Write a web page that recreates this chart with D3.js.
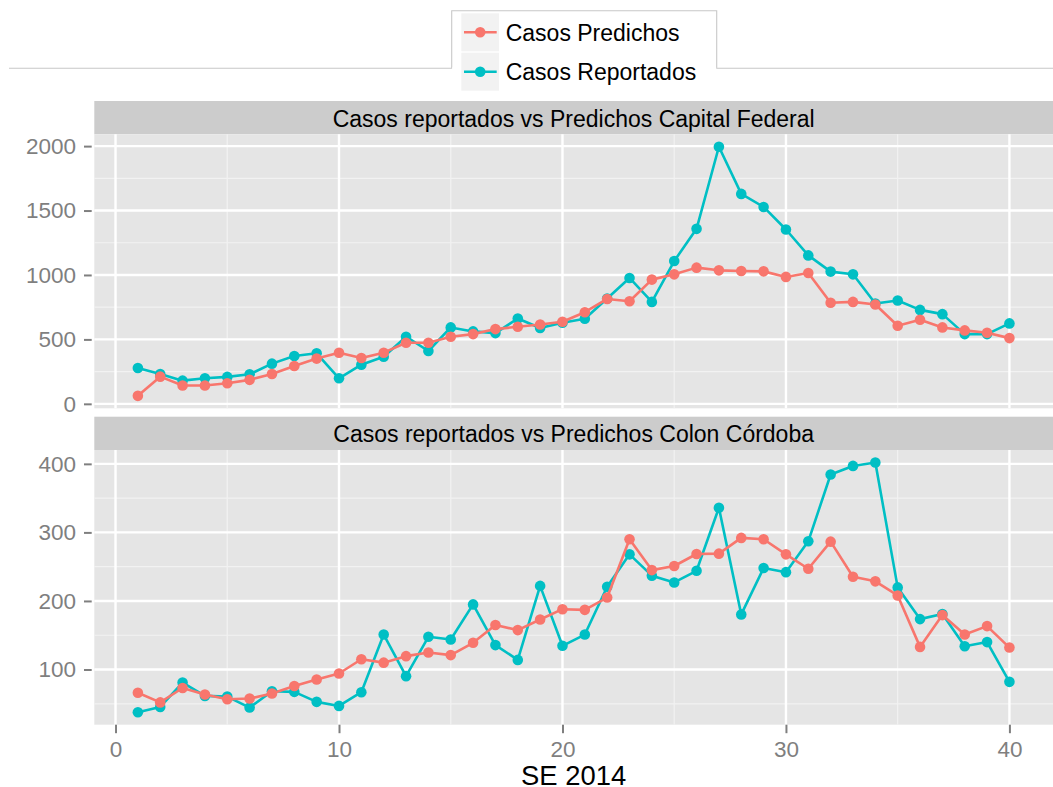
<!DOCTYPE html>
<html>
<head>
<meta charset="utf-8">
<script src="https://cdn.jsdelivr.net/npm/d3@7"></script>
<style>
  html, body { margin: 0; padding: 0; background: #ffffff; }
  svg { display: block; font-family: "Liberation Sans", Arial, Helvetica, sans-serif; }
</style>
</head>
<body>
<svg id="chart" width="1053" height="787"></svg>
<script>
// ---------------- DATA ----------------
const weeks = d3.range(1, 41);
const seriesNames = ["Casos Predichos", "Casos Reportados"];
const panelTitles = ["Casos reportados vs Predichos Capital Federal", "Casos reportados vs Predichos Colon Córdoba"];

const capitalPredichos = [62, 211, 142, 142, 160, 186, 232, 294, 351, 397,
  356, 397, 474, 474, 521, 541, 580, 598, 616, 637,
  711, 814, 796, 964, 1005, 1057, 1036, 1031, 1028, 985,
  1015, 784, 791, 771, 606, 652, 593, 570, 552, 510];
const capitalReportados = [278, 232, 180, 198, 209, 229, 312, 371, 392, 198,
  304, 366, 521, 410, 593, 562, 549, 662, 588, 629,
  660, 817, 977, 791, 1108, 1358, 1995, 1629, 1528, 1353,
  1152, 1026, 1005, 778, 802, 729, 696, 541, 541, 624];

const colonPredichos = [66, 52, 73, 63.5, 56.6, 57.6, 65, 76, 85.4, 94.2,
  115, 110, 119.5, 124.8, 121, 139, 165, 157.5, 173, 188,
  187, 205, 290, 245, 251, 268.5, 269, 292, 290, 268,
  247, 286.5, 235.4, 228.6, 208, 133, 179.4, 151, 163.3, 132];
const colonReportados = [37.7, 45.4, 81, 61.5, 60.5, 44.5, 68.3, 67.4, 52.8, 46.9,
  66.9, 151, 90.3, 147.7, 143.8, 195, 135.6, 114, 222, 134.6,
  151, 220.8, 268, 236.9, 227, 244, 336, 180.4, 248, 242,
  287, 384.5, 397, 402, 219.8, 173.5, 180.9, 134, 140, 82];

const xTicks = [0, 10, 20, 30, 40];
const xMinor = [5, 15, 25, 35];
const capitalTicks = [0, 500, 1000, 1500, 2000];
const capitalMinor = [250, 750, 1250, 1750];
const colonTicks = [100, 200, 300, 400];
const colonMinor = [50, 150, 250, 350];
const xTitle = "SE 2014";

const colors = { "Casos Predichos": "#F8766D", "Casos Reportados": "#00BFC4" };

// ---------------- LAYOUT ----------------
const svg = d3.select("#chart");
const W = 1053;
const panelLeft = 94.3, panelRight = 1053;
const panels = [
  { title: panelTitles[0], pred: capitalPredichos, rep: capitalReportados, ticks: capitalTicks, minor: capitalMinor,
    stripTop: 101, stripBottom: 134.3, top: 134.3, bottom: 408.3 },
  { title: panelTitles[1], pred: colonPredichos, rep: colonReportados, ticks: colonTicks, minor: colonMinor,
    stripTop: 416.7, stripBottom: 450, top: 450, bottom: 724.7 }
];

const xExt = d3.extent(weeks);
const xPad = (xExt[1] - xExt[0]) * 0.05;
const x = d3.scaleLinear().domain([xExt[0] - xPad, xExt[1] + xPad]).range([panelLeft, panelRight]);

const tickFont = 22.5;
const tickColor = "#7f7f7f";

panels.forEach((p, i) => {
  const all = p.pred.concat(p.rep);
  const ext = d3.extent(all);
  const pad = (ext[1] - ext[0]) * 0.05;
  const y = d3.scaleLinear().domain([ext[0] - pad, ext[1] + pad]).range([p.bottom, p.top]);

  // strip
  svg.append("rect").attr("x", panelLeft).attr("y", p.stripTop)
    .attr("width", panelRight - panelLeft).attr("height", p.stripBottom - p.stripTop)
    .attr("fill", "#cccccc");
  svg.append("text").attr("x", (panelLeft + panelRight) / 2).attr("y", p.stripTop + 25.7)
    .attr("text-anchor", "middle").attr("font-size", 23).attr("fill", "#000")
    .text(p.title);

  // panel background
  svg.append("rect").attr("x", panelLeft).attr("y", p.top)
    .attr("width", panelRight - panelLeft).attr("height", p.bottom - p.top)
    .attr("fill", "#e5e5e5");

  const g = svg.append("g");
  // minor grid
  g.selectAll(".hmin").data(p.minor).enter().append("line")
    .attr("x1", panelLeft).attr("x2", panelRight)
    .attr("y1", d => y(d)).attr("y2", d => y(d))
    .attr("stroke", "#f2f2f2").attr("stroke-width", 1.2);
  g.selectAll(".vmin").data(xMinor).enter().append("line")
    .attr("y1", p.top).attr("y2", p.bottom)
    .attr("x1", d => x(d)).attr("x2", d => x(d))
    .attr("stroke", "#f2f2f2").attr("stroke-width", 1.2);
  // major grid
  g.selectAll(".hmaj").data(p.ticks).enter().append("line")
    .attr("x1", panelLeft).attr("x2", panelRight)
    .attr("y1", d => y(d)).attr("y2", d => y(d))
    .attr("stroke", "#ffffff").attr("stroke-width", 2.4);
  g.selectAll(".vmaj").data(xTicks).enter().append("line")
    .attr("y1", p.top).attr("y2", p.bottom)
    .attr("x1", d => x(d)).attr("x2", d => x(d))
    .attr("stroke", "#ffffff").attr("stroke-width", 2.4);

  // y axis
  const yAxis = d3.axisLeft(y).tickValues(p.ticks).tickSize(7.7).tickPadding(8).tickFormat(d3.format("d"));
  const ga = svg.append("g").attr("transform", `translate(91.7,0)`).call(yAxis);
  ga.select(".domain").remove();
  ga.selectAll(".tick line").attr("stroke", tickColor).attr("stroke-width", 2);
  ga.selectAll(".tick text").attr("fill", tickColor).attr("font-size", tickFont)
    .attr("font-family", "Liberation Sans, Arial, sans-serif");

  // series: reportados first, predichos on top
  const seriesList = [
    { name: seriesNames[1], vals: p.rep },
    { name: seriesNames[0], vals: p.pred }
  ];
  const clipId = "clip" + i;
  svg.append("clipPath").attr("id", clipId).append("rect")
    .attr("x", panelLeft).attr("y", p.top).attr("width", panelRight - panelLeft).attr("height", p.bottom - p.top);
  const gs = svg.append("g").attr("clip-path", `url(#${clipId})`);
  seriesList.forEach(s => {
    const pts = weeks.map((w, k) => [w, s.vals[k]]);
    const line = d3.line().x(d => x(d[0])).y(d => y(d[1]));
    gs.append("path").datum(pts).attr("d", line)
      .attr("fill", "none").attr("stroke", colors[s.name]).attr("stroke-width", 2.6)
      .attr("stroke-linejoin", "round");
    gs.selectAll(null).data(pts).enter().append("circle")
      .attr("cx", d => x(d[0])).attr("cy", d => y(d[1])).attr("r", 5.3)
      .attr("fill", colors[s.name]);
  });
});

// x axis (bottom)
const xAxis = d3.axisBottom(x).tickValues(xTicks).tickSize(8.5).tickPadding(7.5).tickFormat(d3.format("d"));
const gx = svg.append("g").attr("transform", `translate(0,${panels[1].bottom})`).call(xAxis);
gx.select(".domain").remove();
gx.selectAll(".tick line").attr("stroke", tickColor).attr("stroke-width", 2);
gx.selectAll(".tick text").attr("fill", tickColor).attr("font-size", tickFont)
  .attr("font-family", "Liberation Sans, Arial, sans-serif");

// x title
svg.append("text").attr("x", (panelLeft + panelRight) / 2).attr("y", 785)
  .attr("text-anchor", "middle").attr("font-size", 27.4).attr("fill", "#000").text(xTitle);

// ---------------- LEGEND ----------------
const lgLeft = 451.7, lgRight = 716.7, lgTop = 10.7, lineY = 68.3;
svg.append("path")
  .attr("d", `M9,${lineY}H${lgLeft}V${lgTop}H${lgRight}V${lineY}H${W}`)
  .attr("fill", "none").attr("stroke", "#c8c8c8").attr("stroke-width", 1.1);
svg.append("rect").attr("x", lgLeft + 0.6).attr("y", lineY - 1).attr("width", lgRight - lgLeft - 1.2).attr("height", 26)
  .attr("fill", "#fff");

const keyRows = [
  { name: seriesNames[0], top: 13.3 },
  { name: seriesNames[1], top: 52.7 }
];
const lg = svg.append("g");
keyRows.forEach(r => {
  lg.append("rect").attr("x", 461.3).attr("y", r.top).attr("width", 37.7).attr("height", 38)
    .attr("fill", "#f2f2f2");
  const cy = r.top + 19;
  lg.append("line").attr("x1", 464).attr("x2", 496.7).attr("y1", cy).attr("y2", cy)
    .attr("stroke", colors[r.name]).attr("stroke-width", 2.6);
  lg.append("circle").attr("cx", 480.2).attr("cy", cy).attr("r", 5.3).attr("fill", colors[r.name]);
  lg.append("text").attr("x", 505.7).attr("y", cy + 8.2).attr("font-size", 23).attr("fill", "#000").text(r.name);
});
</script>
</body>
</html>
